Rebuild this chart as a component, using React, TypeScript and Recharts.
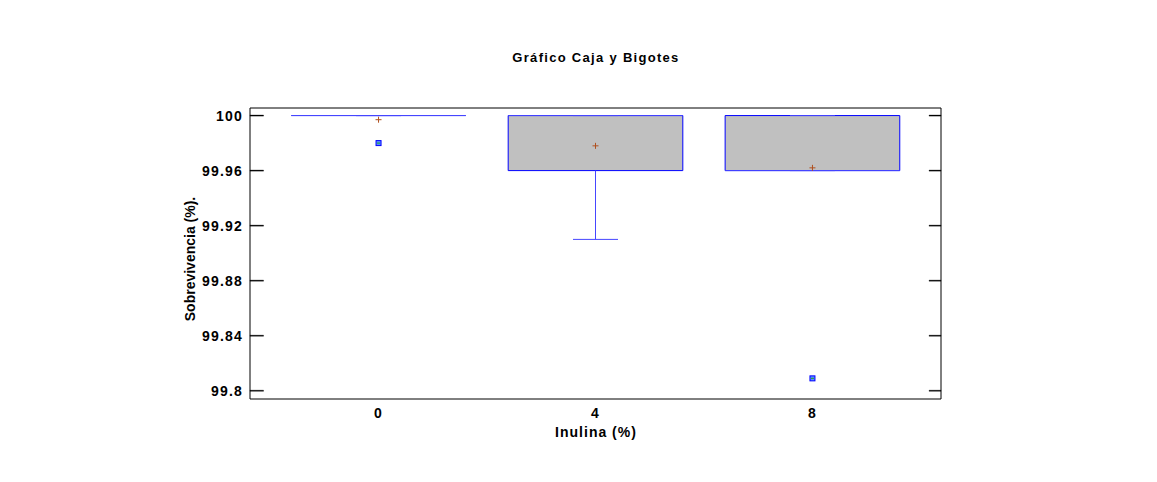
import React from 'react';
import {
  ComposedChart,
  XAxis,
  YAxis,
  Scatter,
  Line,
  ReferenceArea,
} from 'recharts';

// groups (Inulina %)
const categories = [0, 4, 8];
const q1 = [100, 99.96, 99.96];
const q3 = [100, 100, 100];
const medians = [100, 100, 99.96];
const whiskerLow = [100, 99.91, 99.96];
const whiskerHigh = [100, 100, 100];
const means = [99.997, 99.978, 99.962];
const outlierX = [0, 8];
const outlierY = [99.98, 99.809];
const yTicks = [99.8, 99.84, 99.88, 99.92, 99.96, 100];

const BOX_HALF = 1.61;
const CAP_HALF = 0.415;
const BLUE = '#0000ff';
const WHISKER = '#4646ff';
const FONT = '"Liberation Sans", Arial, sans-serif';
const X_DOMAIN: [number, number] = [-2.37, 10.37];
const Y_DOMAIN: [number, number] = [99.794, 100.0055];
const LEFT_TICK = 0.25;
const RIGHT_TICK = 0.22;
const TICK_HALF = 0.0004; // about half a pixel in y units

const meanData = categories.map((c, i) => ({ x: c, y: means[i] }));
const outlierData = outlierX.map((x, i) => ({ x, y: outlierY[i] }));

// box-plot line segments as pairs of data points
type Seg = { x: number; y: number }[];
const segments: Seg[] = [];
categories.forEach((c, i) => {
  if (q3[i] === q1[i]) segments.push([{ x: c - BOX_HALF, y: q1[i] }, { x: c + BOX_HALF, y: q1[i] }]);
  segments.push([{ x: c - BOX_HALF, y: medians[i] }, { x: c + BOX_HALF, y: medians[i] }]);
  if (whiskerLow[i] < q1[i]) segments.push([{ x: c, y: q1[i] }, { x: c, y: whiskerLow[i] }]);
  if (whiskerHigh[i] > q3[i]) segments.push([{ x: c, y: q3[i] }, { x: c, y: whiskerHigh[i] }]);
  segments.push([{ x: c - CAP_HALF, y: whiskerLow[i] }, { x: c + CAP_HALF, y: whiskerLow[i] }]);
  segments.push([{ x: c - CAP_HALF, y: whiskerHigh[i] }, { x: c + CAP_HALF, y: whiskerHigh[i] }]);
});

const MeanMark = (props: any) => {
  const { cx, cy } = props;
  return (
    <g stroke="#b0501e" strokeWidth={1}>
      <line x1={cx - 3} x2={cx + 3} y1={cy} y2={cy} />
      <line x1={cx} x2={cx} y1={cy - 3} y2={cy + 3} />
    </g>
  );
};

const OutlierMark = (props: any) => {
  const { cx, cy } = props;
  return (
    <g>
      <rect x={cx - 2.5} y={cy - 2.5} width={5} height={5} fill="#5a8cff" stroke={BLUE} strokeWidth={1} />
      <line x1={cx - 1.5} x2={cx + 1.5} y1={cy} y2={cy} stroke="#22aa22" strokeWidth={1} />
    </g>
  );
};

const tickFont = { fill: '#000', fontSize: 14, fontWeight: 'bold', fontFamily: FONT, style: { letterSpacing: 1.2 } };

export default function App() {
  return (
    <div style={{ position: 'relative', width: 1141, height: 466, fontFamily: FONT }}>
      <div
        style={{
          position: 'absolute', left: 388, top: 42, width: 400, textAlign: 'center',
          fontSize: 13, fontWeight: 'bold', lineHeight: '16px', color: '#000', letterSpacing: 1.3,
        }}
      >
        Gráfico Caja y Bigotes
      </div>
      <div
        style={{
          position: 'absolute', left: 388, top: 416, width: 400, textAlign: 'center',
          fontSize: 14, fontWeight: 'bold', lineHeight: '16px', color: '#000', letterSpacing: 1,
        }}
      >
        Inulina (%)
      </div>
      <div
        style={{
          position: 'absolute', left: 182, top: 251, transform: 'translate(-50%, -50%) rotate(-90deg)',
          whiteSpace: 'nowrap', fontSize: 14, fontWeight: 'bold', lineHeight: '16px', color: '#000',
        }}
      >
        Sobrevivencia (%).
      </div>
      <ComposedChart
        width={1141}
        height={466}
        margin={{ top: 99, right: 207, bottom: 30, left: 162 }}
        style={{ position: 'absolute', left: 0, top: 0 }}
      >
        <XAxis
          dataKey="x"
          type="number"
          domain={X_DOMAIN}
          ticks={categories}
          allowDataOverflow
          height={45}
          tickLine={false}
          axisLine={{ stroke: '#000', strokeWidth: 1 }}
          tick={tickFont}
          tickMargin={3}
        />
        <XAxis
          xAxisId="top"
          orientation="top"
          type="number"
          domain={X_DOMAIN}
          height={1}
          tick={false}
          tickLine={false}
          axisLine={{ stroke: '#000', strokeWidth: 1 }}
        />
        <YAxis
          type="number"
          domain={Y_DOMAIN}
          ticks={yTicks}
          allowDataOverflow
          width={80}
          tickLine={false}
          tickMargin={1}
          tickFormatter={(v) => String(v)}
          axisLine={{ stroke: '#000', strokeWidth: 1 }}
          tick={tickFont}
        />
        <YAxis
          yAxisId="right"
          orientation="right"
          type="number"
          domain={Y_DOMAIN}
          ticks={yTicks}
          allowDataOverflow
          width={1}
          tick={false}
          tickLine={false}
          axisLine={{ stroke: '#000', strokeWidth: 1 }}
        />
        {yTicks.map((t) => (
          <ReferenceArea
            key={`lt${t}`}
            x1={X_DOMAIN[0]}
            x2={X_DOMAIN[0] + LEFT_TICK}
            y1={t - TICK_HALF}
            y2={t + TICK_HALF}
            fill="#000"
            fillOpacity={1}
            stroke="#000"
            strokeWidth={0.3}
            ifOverflow="visible"
          />
        ))}
        {yTicks.map((t) => (
          <ReferenceArea
            key={`rt${t}`}
            x1={X_DOMAIN[1] - RIGHT_TICK}
            x2={X_DOMAIN[1]}
            y1={t - TICK_HALF}
            y2={t + TICK_HALF}
            fill="#000"
            fillOpacity={1}
            stroke="#000"
            strokeWidth={0.3}
            ifOverflow="visible"
          />
        ))}
        {categories.map((c, i) =>
          q3[i] > q1[i] ? (
            <ReferenceArea
              key={`box${i}`}
              x1={c - BOX_HALF}
              x2={c + BOX_HALF}
              y1={q1[i]}
              y2={q3[i]}
              fill="#c0c0c0"
              fillOpacity={1}
              stroke={BLUE}
              strokeWidth={1}
              ifOverflow="visible"
            />
          ) : null
        )}
        {segments.map((seg, k) => (
          <Line key={`seg${k}`} data={seg} dataKey="y" type="linear" stroke={WHISKER} strokeWidth={1}
            dot={false} activeDot={false} isAnimationActive={false} />
        ))}
        <Scatter data={meanData} dataKey="y" shape={MeanMark} isAnimationActive={false} />
        <Scatter data={outlierData} dataKey="y" shape={OutlierMark} isAnimationActive={false} />
      </ComposedChart>
    </div>
  );
}
